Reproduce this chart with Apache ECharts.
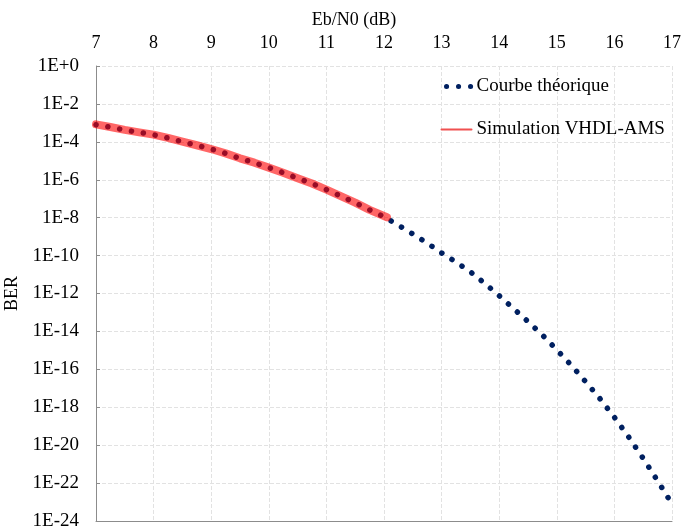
<!DOCTYPE html>
<html>
<head>
<meta charset="utf-8">
<script src="https://cdn.jsdelivr.net/npm/echarts@6/dist/echarts.min.js"></script>
<style>html,body{margin:0;padding:0;background:#fff;}#c{width:685px;height:528px;}#err{position:absolute;left:100px;top:300px;font:12px sans-serif;color:#c00;}</style>
</head>
<body>
<div id="c"></div>
<div id="err"></div>
<script>
window.onerror = function(m){ document.getElementById('err').textContent = m; };
// Eb/N0 (dB)
var ebn0 = [7.0,7.25,7.5,7.75,8.0,8.25,8.5,8.75,9.0,9.25,9.5,9.75,10.0,10.25,10.5,10.75,11.0,11.25,11.5,11.75,12.0,
            12.25,12.5,12.75,13.0,13.25,13.5,13.75,14.0,14.25,14.5,14.75,15.0,15.25,15.5,15.75,16.0,16.25,16.5,16.75,17.0];
// theoretical BER, as decimal exponent (BER = 10^x)
var theoExp = [-3.10,-3.23,-3.38,-3.50,-3.63,-3.80,-4.00,-4.19,-4.38,-4.61,-4.88,-5.10,-5.36,-5.63,-5.92,-6.20,-6.52,-6.86,-7.21,-7.59,-7.95,
               -8.40,-8.86,-9.34,-9.86,-10.34,-10.86,-11.47,-12.12,-12.80,-13.48,-14.19,-14.97,-15.78,-16.65,-17.55,-18.53,-19.58,-20.70,-21.88,-23.10];
// VHDL-AMS simulation
var simEbn0 = [7.0,7.25,7.5,7.75,8.0,8.25,8.5,8.75,9.0,9.25,9.5,9.75,10.0,10.25,10.5,10.75,11.0,11.25,11.5,11.75,12.05];
var simExp = [-3.08,-3.22,-3.37,-3.50,-3.62,-3.79,-3.99,-4.18,-4.38,-4.61,-4.87,-5.10,-5.36,-5.63,-5.92,-6.20,-6.52,-6.86,-7.21,-7.59,-7.98];
var xTicks = [7,8,9,10,11,12,13,14,15,16,17];
var yTickExps = [0,-2,-4,-6,-8,-10,-12,-14,-16,-18,-20,-22,-24];

var theoData = ebn0.map(function(x,i){return [x, theoExp[i]];});
var simData = simEbn0.map(function(x,i){return [x, simExp[i]];});

var font = '"Liberation Serif", "Times New Roman", serif';
var chart = echarts.init(document.getElementById('c'));
chart.setOption({
  animation: false,
  backgroundColor: '#fff',
  grid: {left: 96, right: 13, top: 66, bottom: 7, containLabel: false, outerBoundsMode: 'none'},
  legend: {
    orient: 'vertical', left: 439, top: 77, padding: 0, itemWidth: 30, itemHeight: 19, itemGap: 24,
    textStyle: {fontFamily: font, fontSize: 19, color: '#000'},
    data: [
      {name: 'Courbe théorique', itemStyle: {opacity: 0},
        lineStyle: {width: 5, color: '#002060', type: [0.1, 11.9], cap: 'round', dashOffset: -5}},
      {name: 'Simulation VHDL-AMS', itemStyle: {opacity: 0},
        lineStyle: {width: 2, color: '#f05050', opacity: 1, type: 'solid'}}
    ]
  },
  xAxis: [{
    type: 'value', position: 'top', min: 7, max: 17, interval: 1,
    name: 'Eb/N0 (dB)', nameLocation: 'middle', nameGap: 35,
    nameTextStyle: {fontFamily: font, fontSize: 18, color: '#000', padding: [0, 60, 0, 0]},
    axisLine: {show: false}, axisTick: {show: false},
    axisLabel: {fontFamily: font, fontSize: 18, color: '#000', margin: 14,
      formatter: function(v){return xTicks.indexOf(v) >= 0 ? String(v) : '';}},
    splitLine: {show: true, lineStyle: {color: '#e2e2e2', type: 'dashed', width: 1}}
  }, {
    type: 'value', position: 'bottom', min: 7, max: 17, interval: 1,
    axisLine: {show: true, lineStyle: {color: '#8c8c8c', width: 1}},
    axisTick: {show: false}, axisLabel: {show: false}, splitLine: {show: false}
  }],
  yAxis: {
    type: 'value', min: -24, max: 0, interval: 2,
    name: 'BER', nameLocation: 'middle', nameGap: 65, nameRotate: 90,
    nameTextStyle: {fontFamily: font, fontSize: 18, color: '#000'},
    axisLine: {show: true, lineStyle: {color: '#8c8c8c', width: 1}},
    axisTick: {show: true, inside: true, length: 4, lineStyle: {color: '#8c8c8c'}},
    axisLabel: {fontFamily: font, fontSize: 19, color: '#000', margin: 17,
      formatter: function(v){
        var e = Math.round(v);
        if (yTickExps.indexOf(e) < 0) return '';
        return e === 0 ? '1E+0' : '1E' + e;
      }},
    splitLine: {show: true, lineStyle: {color: '#e2e2e2', type: 'dashed', width: 1}}
  },
  series: [{
    name: 'Courbe théorique', type: 'line', data: theoData, showSymbol: false, symbol: 'none',
    smooth: false, xAxisIndex: 0,
    lineStyle: {color: '#002060', width: 5.5, type: [0.1, 11.9], cap: 'round'},
    itemStyle: {color: '#002060'}, z: 2
  }, {
    name: 'Simulation VHDL-AMS', type: 'line', data: simData, showSymbol: false, symbol: 'none',
    xAxisIndex: 0,
    lineStyle: {color: '#ff0000', width: 8, opacity: 0.6, cap: 'round', join: 'round'},
    itemStyle: {color: '#f05050'}, z: 3
  }]
});
</script>
</body>
</html>
